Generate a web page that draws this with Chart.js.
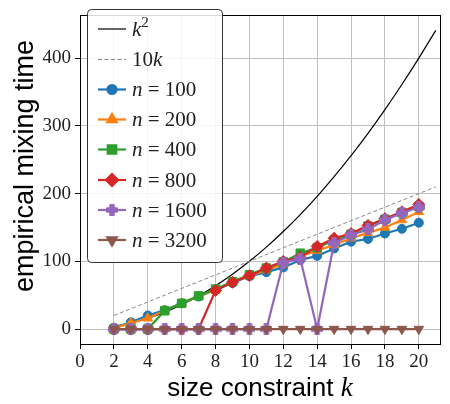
<!DOCTYPE html>
<html>
<head>
<meta charset="utf-8">
<script src="https://cdn.jsdelivr.net/npm/chart.js@4.4.1/dist/chart.umd.min.js"></script>
<style>
  html, body { margin: 0; padding: 0; background: #ffffff; }
  #wrap { width: 450px; height: 404px; }
</style>
</head>
<body>
<div id="wrap"><canvas id="c" width="450" height="404"></canvas></div>
<script>
// ---- data ----
const ks = [2, 3, 4, 5, 6, 7, 8, 9, 10, 11, 12, 13, 14, 15, 16, 17, 18, 19, 20];
const n100  = [2, 10, 20, 28, 38, 48, 58, 68, 78, 84, 91, 102, 108, 119, 129, 133, 141, 148, 157];
const n200  = [1, 9, 16, 27, 38, 48, 58, 69, 79, 87, 96, 107, 116, 124, 134, 142, 150, 161, 173];
const n400  = [0, 0, 0, 27, 38, 49, 59, 70, 80, 90, 99, 112, 120, 131, 140, 152, 162, 172, 181];
const n800  = [0, 0, 0, 0, 0, 0, 57, 69, 79, 90, 100, 106, 122, 134, 141, 153, 163, 173, 184];
const n1600 = [0, 0, 0, 0, 0, 0, 0, 0, 0, 0, 98, 104, 0, 127, 139, 147, 161, 171, 180];
const n3200 = [0, 0, 0, 0, 0, 0, 0, 0, 0, 0, 0, 0, 0, 0, 0, 0, 0, 0, 0];
const curveK  = [2, 3, 4, 5, 6, 7, 8, 9, 10, 11, 12, 13, 14, 15, 16, 17, 18, 19, 20, 21];
const curveSq = [4, 9, 16, 25, 36, 49, 64, 81, 100, 121, 144, 169, 196, 225, 256, 289, 324, 361, 400, 441];
const refK   = [2, 21];
const refTen = [20, 210];
const xTicks = [0, 2, 4, 6, 8, 10, 12, 14, 16, 18, 20];
const yTicks = [0, 100, 200, 300, 400];
const seriesNames = ['100', '200', '400', '800', '1600', '3200'];

const pts = (xs, ys) => xs.map((x, i) => ({ x: x, y: ys[i] }));

const colors = ['#1f77b4', '#ff7f0e', '#2ca02c', '#d62728', '#9467bd', '#8c564b'];

function makePlus(color) {
  const s = 12, t = 4.4;
  const c = document.createElement('canvas');
  c.width = s; c.height = s;
  const g = c.getContext('2d');
  g.fillStyle = color;
  g.strokeStyle = color;
  g.lineWidth = 1;
  g.lineJoin = 'round';
  const a = (s - t) / 2, b = (s + t) / 2, m = 0.5, e = s - 0.5;
  g.beginPath();
  g.moveTo(a, m); g.lineTo(b, m); g.lineTo(b, a); g.lineTo(e, a); g.lineTo(e, b);
  g.lineTo(b, b); g.lineTo(b, e); g.lineTo(a, e); g.lineTo(a, b); g.lineTo(m, b);
  g.lineTo(m, a); g.lineTo(a, a); g.closePath();
  g.fill(); g.stroke();
  return c;
}
const plusImg = makePlus(colors[4]);

const styles = [
  { pointStyle: 'circle', r: 4.5, bw: 1, rot: 0 },
  { pointStyle: 'triangle', r: 5.5, bw: 1, rot: 0 },
  { pointStyle: 'rect', r: 6, bw: 1, rot: 0 },
  { pointStyle: 'rectRot', r: 6, bw: 1, rot: 0 },
  { pointStyle: plusImg, r: 6, bw: 0, rot: 0 },
  { pointStyle: 'triangle', r: 5.5, bw: 1, rot: 180 }
];
const seriesVals = [n100, n200, n400, n800, n1600, n3200];

const datasets = [
  { label: 'k2', data: pts(curveK, curveSq), borderColor: '#000000', borderWidth: 1.2,
    pointRadius: 0, cubicInterpolationMode: 'monotone', order: 20 },
  { label: '10k', data: pts(refK, refTen), borderColor: '#8a8a8a', borderWidth: 1,
    borderDash: [4, 2.5], pointRadius: 0, order: 19 }
];
seriesVals.forEach((vals, i) => {
  datasets.push({
    label: 'n = ' + seriesNames[i],
    data: pts(ks, vals),
    borderColor: colors[i],
    backgroundColor: colors[i],
    borderWidth: 2.2,
    pointStyle: styles[i].pointStyle,
    pointRadius: styles[i].r,
    pointBorderWidth: styles[i].bw,
    pointRotation: styles[i].rot,
    pointBackgroundColor: colors[i],
    pointBorderColor: colors[i],
    order: 10 - i
  });
});

const SERIF = '"Liberation Serif", "DejaVu Serif", serif';
const SANS = '"Liberation Sans", Arial, sans-serif';

function drawMarker(ctx, i, x, y) {
  const s = styles[i];
  Chart.helpers.drawPoint(ctx, {
    pointStyle: s.pointStyle, radius: s.r, rotation: s.rot, borderWidth: s.bw
  }, x, y);
}

function drawRuns(ctx, runs, x, y) {
  let cx = x;
  runs.forEach(r => {
    ctx.font = r[1];
    ctx.fillText(r[0], cx, y + (r[2] || 0));
    cx += ctx.measureText(r[0]).width;
  });
  return cx;
}

const deco = {
  id: 'deco',
  afterDatasetsDraw(chart) {
    const ctx = chart.ctx;
    const a = chart.chartArea;
    ctx.save();
    ctx.strokeStyle = '#000000';
    ctx.lineWidth = 1;
    ctx.strokeRect(Math.round(a.left) + 0.5, Math.round(a.top) + 0.5,
                   Math.round(a.right - a.left), Math.round(a.bottom - a.top));
    ctx.restore();
  },
  afterDraw(chart) {
    const ctx = chart.ctx;
    const a = chart.chartArea;
    ctx.save();
    const bx = 87.5, by = 9.5, bw = 135, bh = 253, rr = 4;
    ctx.beginPath();
    ctx.moveTo(bx + rr, by);
    ctx.lineTo(bx + bw - rr, by);
    ctx.quadraticCurveTo(bx + bw, by, bx + bw, by + rr);
    ctx.lineTo(bx + bw, by + bh - rr);
    ctx.quadraticCurveTo(bx + bw, by + bh, bx + bw - rr, by + bh);
    ctx.lineTo(bx + rr, by + bh);
    ctx.quadraticCurveTo(bx, by + bh, bx, by + bh - rr);
    ctx.lineTo(bx, by + rr);
    ctx.quadraticCurveTo(bx, by, bx + rr, by);
    ctx.closePath();
    ctx.fillStyle = 'rgba(255,255,255,0.85)';
    ctx.fill();
    ctx.strokeStyle = '#333333';
    ctx.lineWidth = 1;
    ctx.stroke();

    const rows = [29, 59.5, 89.5, 119.5, 149.5, 180, 210, 240];
    const hx0 = 98, hx1 = 126, hxm = 112, tx = 132;
    const it = 'italic 21px ' + SERIF;
    const up = '21px ' + SERIF;
    const sup = '15px ' + SERIF;
    ctx.textBaseline = 'middle';
    ctx.textAlign = 'left';
    ctx.fillStyle = '#222222';
    ctx.strokeStyle = '#000000'; ctx.lineWidth = 1.2; ctx.setLineDash([]);
    ctx.beginPath(); ctx.moveTo(hx0, rows[0]); ctx.lineTo(hx1, rows[0]); ctx.stroke();
    drawRuns(ctx, [['k', it, 1], ['2', sup, -6]], tx, rows[0]);
    ctx.strokeStyle = '#8a8a8a'; ctx.lineWidth = 1; ctx.setLineDash([4, 2.5]);
    ctx.beginPath(); ctx.moveTo(hx0, rows[1]); ctx.lineTo(hx1, rows[1]); ctx.stroke();
    ctx.setLineDash([]);
    drawRuns(ctx, [['10', up, 1], ['k', it, 1]], tx, rows[1]);
    for (let i = 0; i < 6; i++) {
      const y = rows[i + 2];
      ctx.strokeStyle = colors[i]; ctx.fillStyle = colors[i]; ctx.lineWidth = 2.2;
      ctx.beginPath(); ctx.moveTo(hx0, y); ctx.lineTo(hx1, y); ctx.stroke();
      drawMarker(ctx, i, hxm, y);
      ctx.fillStyle = '#222222';
      drawRuns(ctx, [['n', it, 1], [' = ' + seriesNames[i], up, 1]], tx, y);
    }

    ctx.fillStyle = '#000000';
    ctx.font = '27px ' + SANS;
    ctx.textAlign = 'center';
    ctx.textBaseline = 'middle';
    ctx.save();
    ctx.translate(26, 166);
    ctx.rotate(-Math.PI / 2);
    ctx.fillText('empirical mixing time', 0, 0);
    ctx.restore();

    ctx.textAlign = 'left';
    ctx.font = '26px ' + SANS;
    const t1 = 'size constraint ';
    const w1 = ctx.measureText(t1).width;
    ctx.font = 'italic 27px ' + SERIF;
    const w2 = ctx.measureText('k').width;
    const x0 = (a.left + a.right) / 2 - (w1 + w2) / 2;
    ctx.textBaseline = 'alphabetic';
    drawRuns(ctx, [[t1, '26px ' + SANS, 0], ['k', 'italic 27px ' + SERIF, 0]], x0, 396);
    ctx.restore();
  }
};

new Chart(document.getElementById('c'), {
  type: 'line',
  data: { datasets: datasets },
  options: {
    responsive: false,
    animation: false,
    devicePixelRatio: 1,
    layout: { padding: { left: 0, top: 3, right: 10, bottom: 0 } },
    plugins: { legend: { display: false }, tooltip: { enabled: false } },
    scales: {
      x: {
        type: 'linear',
        min: 0, max: 21.25,
        afterFit(scale) { scale.height = 60; },
        afterBuildTicks(scale) { scale.ticks = xTicks.map(v => ({ value: v })); },
        ticks: { font: { family: SERIF, size: 19 }, color: '#222222', padding: 2, maxRotation: 0 },
        grid: { color: '#c0c0c0', lineWidth: 1, tickLength: 5, tickColor: '#000000', drawTicks: true },
        border: { display: false }
      },
      y: {
        type: 'linear',
        min: -22.05, max: 463.05,
        afterFit(scale) { scale.width = 80; },
        afterBuildTicks(scale) { scale.ticks = yTicks.map(v => ({ value: v })); },
        ticks: { font: { family: SERIF, size: 19 }, color: '#222222', padding: 4 },
        grid: { color: '#c0c0c0', lineWidth: 1, tickLength: 5, tickColor: '#000000', drawTicks: true },
        border: { display: false }
      }
    }
  },
  plugins: [deco]
});
</script>
</body>
</html>
